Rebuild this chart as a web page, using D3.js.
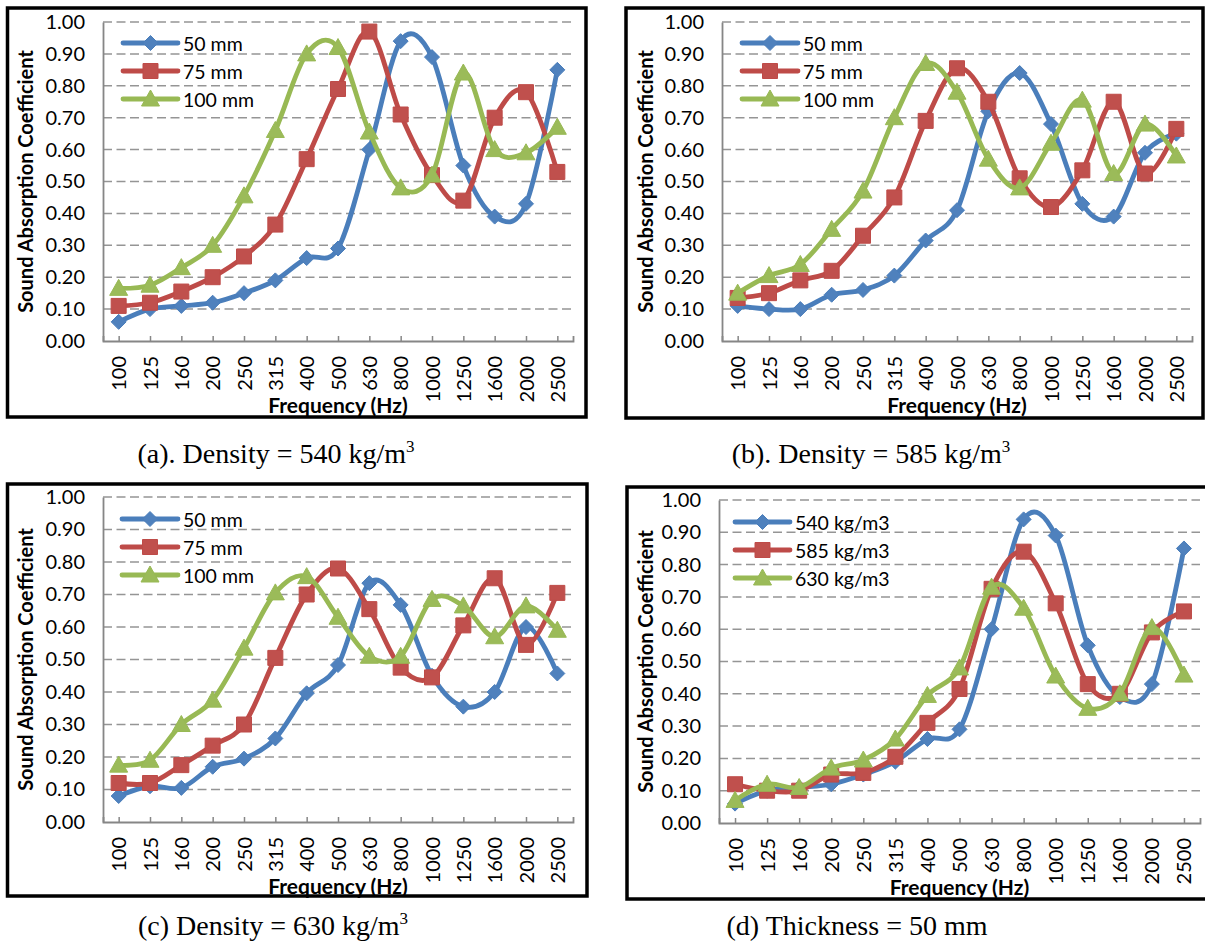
<!DOCTYPE html>
<html>
<head>
<meta charset="utf-8">
<script src="https://cdn.jsdelivr.net/npm/d3@7"></script>
<style>
  body { margin: 0; background: #fff; }
  svg { display: block; }
  .tick-label, .legend-text, .axis-title { font-family: Lato, "Open Sans", sans-serif; fill: #000; }
  .caption { font-family: "Liberation Serif", "Times New Roman", serif; fill: #000; }
</style>
</head>
<body>
<svg id="chart" width="1205" height="942"></svg>
<script>
// categories (frequency, Hz)
const freqs = ["100","125","160","200","250","315","400","500","630","800","1000","1250","1600","2000","2500"];

// (a) density 540 kg/m3
const a50  = [0.06,0.10,0.11,0.12,0.15,0.19,0.26,0.29,0.60,0.94,0.89,0.55,0.39,0.43,0.85];
const a75  = [0.11,0.12,0.155,0.20,0.265,0.365,0.57,0.79,0.97,0.71,0.52,0.44,0.70,0.78,0.53];
const a100 = [0.165,0.175,0.23,0.30,0.455,0.66,0.90,0.92,0.655,0.48,0.52,0.84,0.60,0.59,0.67];

// (b) density 585 kg/m3
const b50  = [0.11,0.10,0.10,0.145,0.16,0.205,0.315,0.41,0.72,0.84,0.68,0.43,0.39,0.59,0.65];
const b75  = [0.135,0.15,0.19,0.22,0.33,0.45,0.69,0.855,0.75,0.51,0.42,0.535,0.75,0.525,0.665];
const b100 = [0.15,0.205,0.24,0.35,0.47,0.70,0.87,0.78,0.57,0.48,0.62,0.755,0.525,0.68,0.58];

// (c) density 630 kg/m3
const c50  = [0.08,0.11,0.105,0.17,0.195,0.257,0.396,0.483,0.735,0.668,0.45,0.355,0.40,0.60,0.457];
const c75  = [0.12,0.12,0.175,0.235,0.30,0.505,0.70,0.78,0.655,0.475,0.445,0.605,0.75,0.545,0.705];
const c100 = [0.175,0.19,0.30,0.375,0.535,0.705,0.755,0.63,0.51,0.51,0.685,0.665,0.57,0.665,0.59];

// (d) thickness 50 mm
const d540 = [0.06,0.10,0.11,0.12,0.15,0.19,0.26,0.29,0.60,0.94,0.89,0.55,0.39,0.43,0.85];
const d585 = [0.12,0.10,0.10,0.15,0.155,0.205,0.31,0.415,0.725,0.84,0.68,0.43,0.40,0.59,0.655];
const d630 = [0.07,0.12,0.11,0.17,0.195,0.26,0.395,0.48,0.73,0.665,0.455,0.355,0.40,0.605,0.458];

const thicknessNames = ["50 mm","75 mm","100 mm"];
const densityNames = ["540 kg/m3","585 kg/m3","630 kg/m3"];

const COLORS = [
  {line:"#4A7EBB", fill:"#4F81BD"},
  {line:"#BE4B48", fill:"#C0504D"},
  {line:"#98B954", fill:"#9BBB59"}
];

function marker_path(k){
  if(k === 0) return "M0,-7.5L7.5,0L0,7.5L-7.5,0Z";
  if(k === 1) return "M-7.5,-7.5H7.5V7.5H-7.5Z";
  return "M0,-9L9,7L-9,7Z";
}

const panels = [
  {frame:[7.5,8,586,417], plot:[103,22,573,341], series:[a50,a75,a100], names:thicknessNames,
   legend:{x1:123,x2:178,y0:43}, yTitleX:25, cap:{x:276,y:463,text:"(a). Density = 540 kg/m",sup:"3"}},
  {frame:[626,8,1203,418], plot:[722,22,1192,341], series:[b50,b75,b100], names:thicknessNames,
   legend:{x1:742,x2:798,y0:43}, yTitleX:645, cap:{x:871,y:463,text:"(b). Density = 585 kg/m",sup:"3"}},
  {frame:[7.5,484,587,896], plot:[103,497,573,822], series:[c50,c75,c100], names:thicknessNames,
   legend:{x1:122,x2:178,y0:519}, yTitleX:25, cap:{x:273,y:935,text:"(c) Density = 630 kg/m",sup:"3"}},
  {frame:[627,487,1210,899], plot:[719,500,1200,823], series:[d540,d585,d630], names:densityNames,
   legend:{x1:735,x2:790,y0:522}, yTitleX:645, cap:{x:857,y:935,text:"(d) Thickness = 50 mm",sup:null}}
];

const svg = d3.select("#chart");

function draw_panel(p){
  const g = svg.append("g");
  const [fx0,fy0,fx1,fy1] = p.frame;
  const [px0,py0,px1,py1] = p.plot;

  g.append("rect")
    .attr("x",fx0).attr("y",fy0)
    .attr("width",fx1-fx0).attr("height",fy1-fy0)
    .attr("fill","#fff").attr("stroke","#000").attr("stroke-width",3.5);

  const x = d3.scalePoint().domain(freqs).range([px0,px1]).padding(0.5);
  const y = d3.scaleLinear().domain([0,1]).range([py1,py0]);

  // dashed grid
  g.append("g").selectAll("line")
    .data(y.ticks(10).filter(v => v > 0))
    .enter().append("line")
      .attr("x1",px0).attr("x2",px1)
      .attr("y1",d => y(d)).attr("y2",d => y(d))
      .attr("stroke","#959595").attr("stroke-width",1.5)
      .attr("stroke-dasharray","9,4.5");

  // y axis
  const yAxis = g.append("g")
    .attr("transform","translate(" + px0 + ",0)")
    .call(d3.axisLeft(y).ticks(10).tickFormat(d3.format(".2f")).tickSize(0).tickSizeOuter(0).tickPadding(18));
  yAxis.select(".domain").attr("stroke","#868686").attr("stroke-width",1.8);
  yAxis.selectAll("text").attr("class","tick-label").style("font-size","20px").attr("fill","#000");

  // x axis, ticks point inward
  const xAxis = g.append("g")
    .attr("transform","translate(0," + py1 + ")")
    .call(d3.axisBottom(x).tickSizeInner(-5).tickSizeOuter(-5));
  xAxis.select(".domain").attr("stroke","#868686").attr("stroke-width",1.8);
  xAxis.selectAll(".tick line").attr("stroke","#868686").attr("stroke-width",1.5);
  xAxis.selectAll("text")
    .attr("class","tick-label")
    .style("font-size","20px")
    .attr("fill","#000")
    .attr("text-anchor","end")
    .attr("y",0).attr("dy","0.35em")
    .attr("transform","translate(0,15) rotate(-90)");

  // axis titles
  g.append("text")
    .attr("class","axis-title")
    .attr("x",(px0+px1)/2).attr("y",py1+63)
    .attr("text-anchor","middle").attr("dominant-baseline","central")
    .style("font-size","21px").style("font-weight","bold")
    .text("Frequency (Hz)");
  g.append("text")
    .attr("class","axis-title")
    .attr("transform","translate(" + p.yTitleX + "," + (py0+py1)/2 + ") rotate(-90)")
    .attr("text-anchor","middle").attr("dominant-baseline","central")
    .style("font-size","20px").style("font-weight","bold")
    .text("Sound Absorption Coefficient");

  // series
  const line = d3.line()
    .x((d,i) => x(freqs[i]))
    .y(d => y(d))
    .curve(d3.curveCardinal.tension(0));

  p.series.forEach((vals,k) => {
    const sg = g.append("g");
    sg.append("path")
      .datum(vals)
      .attr("d",line)
      .attr("fill","none")
      .attr("stroke",COLORS[k].line)
      .attr("stroke-width",4.8)
      .attr("stroke-linejoin","round")
      .attr("stroke-linecap","round");
    sg.selectAll("path.marker")
      .data(vals)
      .enter().append("path")
        .attr("class","marker")
        .attr("d",marker_path(k))
        .attr("transform",(d,i) => "translate(" + [x(freqs[i]), y(d)] + ")")
        .attr("fill",COLORS[k].fill)
        .attr("stroke",COLORS[k].line)
        .attr("stroke-width",1);
  });

  // legend
  const lg = g.append("g");
  p.names.forEach((name,k) => {
    const ly = p.legend.y0 + k*28;
    lg.append("line")
      .attr("x1",p.legend.x1).attr("x2",p.legend.x2)
      .attr("y1",ly).attr("y2",ly)
      .attr("stroke",COLORS[k].line).attr("stroke-width",4.8)
      .attr("stroke-linecap","round");
    lg.append("path")
      .attr("d",marker_path(k))
      .attr("transform","translate(" + [(p.legend.x1+p.legend.x2)/2, ly] + ")")
      .attr("fill",COLORS[k].fill).attr("stroke",COLORS[k].line).attr("stroke-width",1);
    lg.append("text")
      .attr("class","legend-text")
      .attr("x",p.legend.x2+5).attr("y",ly)
      .attr("dominant-baseline","central")
      .style("font-size","19.5px")
      .text(name);
  });

  // caption under frame
  const cap = svg.append("text")
    .attr("class","caption")
    .attr("x",p.cap.x).attr("y",p.cap.y)
    .attr("text-anchor","middle")
    .style("font-size","28px");
  cap.append("tspan").text(p.cap.text);
  if(p.cap.sup){
    cap.append("tspan").attr("dy",-11).style("font-size","17px").text(p.cap.sup);
  }
}

panels.forEach(draw_panel);
</script>
</body>
</html>
